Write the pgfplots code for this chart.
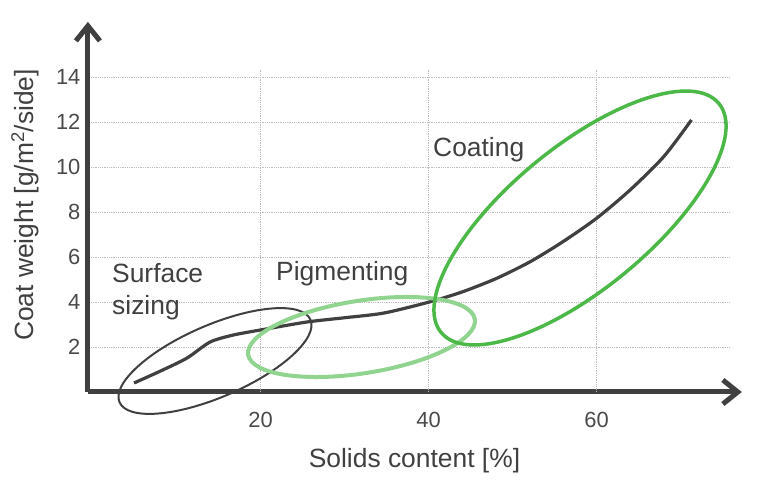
\documentclass[border=0pt]{standalone}
\usepackage{fontspec}
\setmainfont{Liberation Sans}
\usepackage{pgfplots}
\pgfplotsset{compat=1.18}
\usetikzlibrary{arrows.meta}

\definecolor{ink}{HTML}{404040}
\definecolor{tickink}{HTML}{4A4A4A}
\definecolor{gridgray}{HTML}{BDBDBD}
\definecolor{coatgreen}{HTML}{4CB848}
\definecolor{pigmentgreen}{HTML}{90D490}

\begin{document}
\begin{tikzpicture}
\useasboundingbox (0bp,0bp) rectangle (768bp,492bp);
\begin{axis}[
    at={(87.9bp,100bp)}, anchor=south west,
    x=8.4bp, y=22.5bp,
    xmin=-0.55, xmax=77.3, ymin=0, ymax=16.45,
    axis lines=left,
    axis line style={line width=5bp, ink, -{Straight Barb[length=15bp,width=24bp]}},
    xtick={20,40,60}, ytick={2,4,...,14},
    major tick length=0pt,
    /pgf/number format/assume math mode=true,
    tick label style={font=\fontsize{22}{25}\selectfont, text=tickink},
    xticklabel style={yshift=-17bp},
    yticklabel style={xshift=-4bp},
    clip=false,
  ]
  \pgfplotsinvokeforeach{2,4,...,14}{
    \draw[gridgray, densely dotted, line width=0.8bp] (axis cs:-0.18,#1) -- (axis cs:75.9,#1);
  }
  \pgfplotsinvokeforeach{20,40,60}{
    \draw[gridgray, densely dotted, line width=0.8bp] (axis cs:#1,0) -- (axis cs:#1,14.3);
  }
  \addplot[ink, line width=3.2bp, smooth, tension=0.45] coordinates {
    (4.94,0.40) (8.2,0.95) (11.25,1.51) (13.99,2.22) (16.73,2.53)
    (20.06,2.76) (25.5,3.11) (30.0,3.30) (34.7,3.51) (40.2,4.01)
    (44.1,4.46) (48.1,5.05) (52.1,5.79) (56.0,6.68) (60.0,7.72)
    (64.0,8.98) (68.0,10.46) (71.3,12.09)
  };
\end{axis}

% regime ellipses
\draw[ink, line width=2bp, shift={(215bp,131bp)}, rotate=23.4]
  (0,0) ellipse [x radius=104bp, y radius=36bp];
\draw[pigmentgreen, line width=4bp, shift={(361.5bp,155bp)}, rotate=8.9]
  (0,0) ellipse [x radius=114.7bp, y radius=36.3bp];
\draw[coatgreen, line width=3.5bp, shift={(580bp,274bp)}, rotate=39.5]
  (0,0) ellipse [x radius=180bp, y radius=71bp];

% texts
\begin{scope}[every node/.style={font=\fontsize{26.5}{32}\selectfont, text=ink, inner sep=0pt}]
  \node[anchor=base west] at (112bp,209bp) {Surface};
  \node[anchor=base west] at (112bp,177bp) {sizing};
  \node[anchor=base west] at (276bp,211bp) {Pigmenting};
  \node[anchor=base west] at (433bp,335bp) {Coating};
  \node[anchor=base] at (414.5bp,25bp) {Solids content [\%]};
  \node[anchor=base, rotate=90] at (33bp,287bp) {Coat weight [g/m\textsuperscript{2}/side]};
\end{scope}
\end{tikzpicture}
\end{document}
